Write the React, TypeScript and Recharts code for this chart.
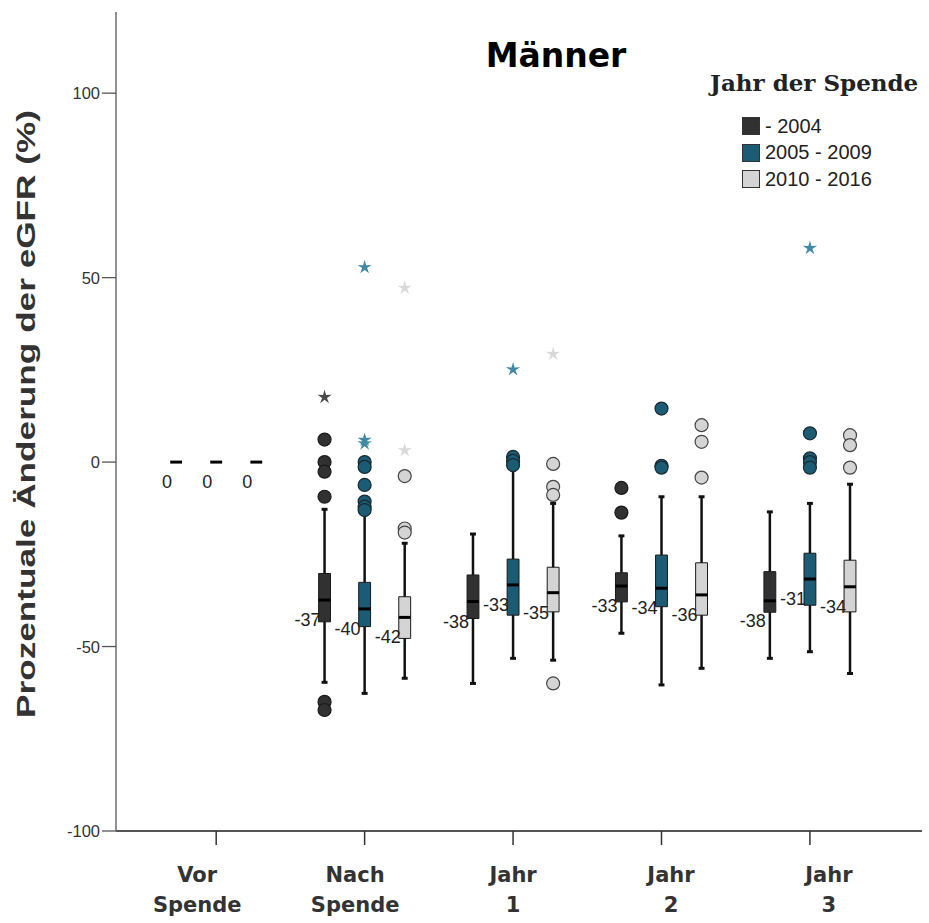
import React from 'react';
import { ComposedChart, XAxis, YAxis, Scatter, ReferenceArea, ReferenceLine, Legend } from 'recharts';

const categories = [['Vor', 'Spende'], ['Nach', 'Spende'], ['Jahr', '1'], ['Jahr', '2'], ['Jahr', '3']];
const seriesNames = ['- 2004', '2005 - 2009', '2010 - 2016'];
const yTicks = [-100, -50, 0, 50, 100];

// - 2004
const low2004 = [0, -59.7, -60.0, -46.4, -53.2];
const q1of2004 = [0, -43.3, -42.4, -37.9, -40.7];
const median2004 = [0, -37.4, -37.8, -33.6, -37.6];
const q3of2004 = [0, -30.2, -30.6, -30.0, -29.7];
const high2004 = [0, -12.8, -19.5, -20.0, -13.5];
const label2004 = ['0', '-37', '-38', '-33', '-38'];
const circles2004 = [[1, 6.1], [1, 0], [1, -2.6], [1, -9.4], [1, -65], [1, -67.2], [3, -7], [3, -13.7]];
const stars2004 = [[1, 17.6]];

// 2005 - 2009
const low2009 = [0, -62.7, -53.2, -60.4, -51.4];
const q1of2009 = [0, -44.6, -41.5, -39.2, -38.8];
const median2009 = [0, -39.8, -33.3, -34.2, -31.7];
const q3of2009 = [0, -32.6, -26.3, -25.2, -24.7];
const high2009 = [0, -13.9, -2.2, -9.4, -11.2];
const label2009 = ['0', '-40', '-33', '-34', '-31'];
const circles2009 = [[1, 0], [1, -1.3], [1, -6.2], [1, -10.7], [1, -12.1], [1, -13], [2, 1.4], [2, 0.3], [2, -0.8], [3, 14.5], [3, -1], [3, -1.5], [4, 7.8], [4, 1], [4, 0], [4, -1.5]];
const stars2009 = [[1, 52.8], [1, 6], [1, 5], [2, 25.1], [4, 58]];

// 2010 - 2016
const low2016 = [0, -58.6, -53.7, -55.9, -57.3];
const q1of2016 = [0, -47.8, -40.6, -41.5, -40.6];
const median2016 = [0, -42.1, -35.4, -36.0, -33.8];
const q3of2016 = [0, -36.5, -28.5, -27.3, -26.6];
const high2016 = [0, -22.0, -11.2, -9.4, -6.0];
const label2016 = ['0', '-42', '-35', '-36', '-34'];
const circles2016 = [[1, -3.8], [1, -18], [1, -19.1], [2, -0.5], [2, -6.7], [2, -8.9], [2, -60], [3, 10], [3, 5.5], [3, -4.2], [4, 7.3], [4, 4.6], [4, -1.5]];
const stars2016 = [[1, 47.2], [1, 3.2], [2, 29.3]];

const series = [
  { fill: '#313131', star: '#4a4a4a', edge: '#1a1a1a', offset: -0.27, low: low2004, q1: q1of2004, med: median2004, q3: q3of2004, high: high2004, labels: label2004, circles: circles2004, stars: stars2004 },
  { fill: '#1b5b73', star: '#3f89a5', edge: '#1a2a30', offset: 0, low: low2009, q1: q1of2009, med: median2009, q3: q3of2009, high: high2009, labels: label2009, circles: circles2009, stars: stars2009 },
  { fill: '#d4d4d4', star: '#d9d9d9', edge: '#444444', offset: 0.27, low: low2016, q1: q1of2016, med: median2016, q3: q3of2016, high: high2016, labels: label2016, circles: circles2016, stars: stars2016 },
];

const boxHalf = 0.04;
const capHalf = 0.02;

const boxes = series.flatMap((s, si) =>
  categories.map((_, ci) => ({
    key: `${si}-${ci}`,
    x: ci + s.offset,
    low: s.low[ci], q1: s.q1[ci], med: s.med[ci], q3: s.q3[ci], high: s.high[ci],
    label: s.labels[ci],
    fill: s.fill,
  }))
);

const labelPoints = boxes.map((b) => ({ x: b.x, y: b.med, label: b.label }));

const circleShape = (fill: string, edge: string) => (p: any) => (
  <circle cx={p.cx} cy={p.cy} r={6.5} fill={fill} stroke={edge} strokeWidth={1.2} />
);

const starShape = (color: string) => (p: any) => {
  const pts: string[] = [];
  for (let i = 0; i < 10; i++) {
    const r = i % 2 === 0 ? 7.5 : 2.6;
    const a = -Math.PI / 2 + (i * Math.PI) / 5;
    pts.push(`${p.cx + r * Math.cos(a)},${p.cy + r * Math.sin(a)}`);
  }
  return <polygon points={pts.join(' ')} fill={color} />;
};

const medianLabel = (p: any) => (
  <text x={p.cx - 4} y={p.cy + 26} textAnchor="end" fontSize={18} fill="#222" fontFamily="'Liberation Sans', Arial, sans-serif">
    {p.payload.label}
  </text>
);

const renderXTick = (p: any) => {
  const i = p.payload.value;
  const [a, b] = categories[i];
  const cx = p.x + (i - 2) * 9.5;
  const style = { fontFamily: "'DejaVu Sans', sans-serif", fontWeight: 'bold' as const, fontSize: 21, fill: '#333' };
  return (
    <g>
      <text x={cx} y={p.y + 35} textAnchor="middle" {...style}>{a}</text>
      <text x={cx} y={p.y + 65} textAnchor="middle" {...style}>{b}</text>
    </g>
  );
};

const renderYTick = (p: any) => (
  <text x={p.x} y={p.y + 6} textAnchor="end" fontSize={16.5} fill="#333" fontFamily="'Liberation Sans', Arial, sans-serif">
    {p.payload.value}
  </text>
);

const yLabel = () => (
  <text
    x={35}
    y={414}
    transform="rotate(-90 35 414)"
    textAnchor="middle"
    fontFamily="'Liberation Sans', Arial, sans-serif"
    fontWeight="bold"
    fontSize={25}
    fill="#333"
    textLength={608}
    lengthAdjust="spacingAndGlyphs"
  >
    Prozentuale Änderung der eGFR (%)
  </text>
);

function LegendBox() {
  return (
    <div style={{ color: '#222' }}>
      <div style={{ fontFamily: "'DejaVu Serif', serif", fontWeight: 'bold', fontSize: 23, lineHeight: '21px', whiteSpace: 'nowrap' }}>
        Jahr der Spende
      </div>
      <div style={{ marginTop: 20 }}>
        {seriesNames.map((n, i) => (
          <div key={n} style={{ display: 'flex', alignItems: 'center', height: 26.5, marginLeft: 32 }}>
            <span style={{ width: 16, height: 16, background: series[i].fill, border: '1px solid #333', display: 'inline-block' }} />
            <span style={{ marginLeft: 5, fontFamily: "'Liberation Sans', Arial, sans-serif", fontSize: 20, whiteSpace: 'nowrap' }}>{n}</span>
          </div>
        ))}
      </div>
    </div>
  );
}

export default function App() {
  return (
    <div style={{ position: 'absolute', left: 0, top: 0, width: 929, height: 923, background: '#fff' }}>
      <div style={{ position: 'absolute', left: 356, top: 39, width: 400, textAlign: 'center', fontFamily: "'DejaVu Sans', sans-serif", fontWeight: 'bold', fontSize: 33, lineHeight: '33px', color: '#000', zIndex: 2 }}>
        Männer
      </div>
      <ComposedChart width={929} height={923} margin={{ top: 12, right: 7, bottom: 0, left: 0 }}>
        <XAxis
          type="number"
          dataKey="x"
          domain={[-0.675, 4.755]}
          ticks={[0, 1, 2, 3, 4]}
          allowDataOverflow
          height={92}
          tickSize={14}
          tick={renderXTick}
          axisLine={{ stroke: '#555', strokeWidth: 2 }}
          tickLine={{ stroke: '#333', strokeWidth: 1.5 }}
        />
        <YAxis
          type="number"
          dataKey="y"
          domain={[-100, 122]}
          ticks={yTicks}
          allowDataOverflow
          width={116}
          tickSize={14}
          tickMargin={2}
          tick={renderYTick}
          axisLine={{ stroke: '#555', strokeWidth: 1.3 }}
          tickLine={{ stroke: '#555', strokeWidth: 1.3 }}
          label={yLabel}
        />
        <Legend layout="vertical" align="center" verticalAlign="middle" content={LegendBox} wrapperStyle={{ position: 'absolute', left: 710, top: 72, width: 219 }} />
        {boxes.filter((b) => b.q3 > b.q1).map((b) => (
          <ReferenceArea key={`a${b.key}`} x1={b.x - boxHalf} x2={b.x + boxHalf} y1={b.q1} y2={b.q3} fill={b.fill} fillOpacity={1} stroke="#1a1a1a" strokeWidth={1} />
        ))}
        {boxes.filter((b) => b.high > b.q3).flatMap((b) => [
          <ReferenceLine key={`wh${b.key}`} segment={[{ x: b.x, y: b.q3 }, { x: b.x, y: b.high }]} stroke="#111" strokeWidth={2.5} />,
          <ReferenceLine key={`ch${b.key}`} segment={[{ x: b.x - capHalf, y: b.high }, { x: b.x + capHalf, y: b.high }]} stroke="#111" strokeWidth={3} />,
        ])}
        {boxes.filter((b) => b.low < b.q1).flatMap((b) => [
          <ReferenceLine key={`wl${b.key}`} segment={[{ x: b.x, y: b.q1 }, { x: b.x, y: b.low }]} stroke="#111" strokeWidth={2.5} />,
          <ReferenceLine key={`cl${b.key}`} segment={[{ x: b.x - capHalf, y: b.low }, { x: b.x + capHalf, y: b.low }]} stroke="#111" strokeWidth={3} />,
        ])}
        {boxes.map((b) => (
          <ReferenceLine key={`m${b.key}`} segment={[{ x: b.x - boxHalf, y: b.med }, { x: b.x + boxHalf, y: b.med }]} stroke="#000" strokeWidth={3} />
        ))}
        {series.map((s, si) => (
          <Scatter
            key={`c${si}`}
            data={s.circles.map(([c, v]) => ({ x: c + s.offset, y: v }))}
            shape={circleShape(s.fill, s.edge)}
            isAnimationActive={false}
          />
        ))}
        {series.map((s, si) => (
          <Scatter
            key={`s${si}`}
            data={s.stars.map(([c, v]) => ({ x: c + s.offset, y: v }))}
            shape={starShape(s.star)}
            isAnimationActive={false}
          />
        ))}
        <Scatter data={labelPoints} shape={medianLabel} isAnimationActive={false} />
      </ComposedChart>
    </div>
  );
}
